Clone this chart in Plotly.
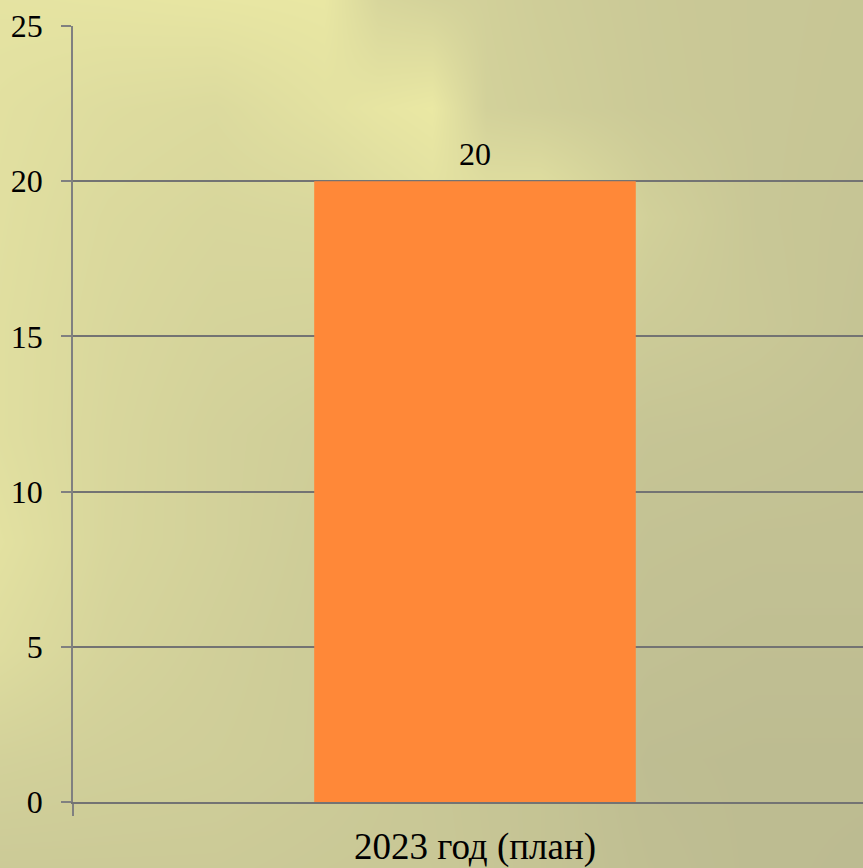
import plotly.graph_objects as go

# ---- chart data ----
categories = ["2023 год (план)"]
values = [20]
y_ticks = [0, 5, 10, 15, 20, 25]

# ---- backdrop: brightness samples of the lit, olive slide background ----
bg_x = [0, 108, 216, 324, 378, 432, 486, 540, 648, 756, 863]
bg_y = [0, 108, 217, 325, 434, 542, 651, 759, 868]
bg_level = [
    [0.88, 0.90, 0.93, 0.96, 0.62, 0.55, 0.50, 0.44, 0.36, 0.32, 0.30],
    [0.82, 0.74, 0.70, 0.84, 0.92, 0.98, 0.52, 0.47, 0.37, 0.32, 0.29],
    [0.80, 0.68, 0.62, 0.64, 0.72, 0.80, 0.85, 0.88, 0.50, 0.32, 0.27],
    [0.78, 0.65, 0.57, 0.55, 0.55, 0.55, 0.53, 0.50, 0.40, 0.34, 0.25],
    [0.78, 0.63, 0.52, 0.45, 0.42, 0.40, 0.37, 0.35, 0.27, 0.25, 0.22],
    [0.84, 0.62, 0.52, 0.42, 0.38, 0.35, 0.32, 0.30, 0.22, 0.20, 0.20],
    [0.74, 0.57, 0.48, 0.40, 0.35, 0.30, 0.27, 0.25, 0.18, 0.15, 0.15],
    [0.52, 0.48, 0.45, 0.40, 0.36, 0.32, 0.28, 0.25, 0.12, 0.10, 0.10],
    [0.38, 0.38, 0.38, 0.35, 0.34, 0.33, 0.29, 0.25, 0.15, 0.10, 0.08],
]

W, H = 863, 868
LEFT, TOP, BOTTOM = 73, 26, 66
SERIF = "Liberation Serif, DejaVu Serif, serif"

fig = go.Figure()

fig.add_trace(go.Heatmap(
    x=bg_x, y=bg_y, z=bg_level,
    zmin=0, zmax=1, zsmooth="best",
    colorscale=[[0, "#b8b78f"], [1, "#ebe9a4"]],
    showscale=False, hoverinfo="skip",
    xaxis="x", yaxis="y",
))

fig.add_trace(go.Bar(
    x=categories, y=values,
    width=0.4,
    marker=dict(color="#ff8838", line=dict(width=0)),
    xaxis="x2", yaxis="y2",
    hoverinfo="skip",
))

for cat, val in zip(categories, values):
    fig.add_annotation(
        x=cat, y=val, xref="x2", yref="y2",
        text=str(val), showarrow=False,
        yanchor="bottom", yshift=7,
        font=dict(family=SERIF, size=32, color="#000000"),
    )

fig.update_layout(
    width=W, height=H,
    margin=dict(l=0, r=0, t=0, b=0, autoexpand=False),
    paper_bgcolor="#d0ce9a",
    plot_bgcolor="rgba(0,0,0,0)",
    showlegend=False,
    font=dict(family=SERIF),
    xaxis=dict(domain=[0, 1], range=[0, W], visible=False,
               fixedrange=True, automargin=False),
    yaxis=dict(domain=[0, 1], range=[H, 0], visible=False,
               fixedrange=True, automargin=False),
    xaxis2=dict(
        domain=[LEFT / W, 1], anchor="y2", automargin=False,
        type="category", categoryorder="array", categoryarray=categories,
        range=[-0.5, 0.4826],
        showgrid=False, zeroline=False,
        showline=True, linecolor="#737373", linewidth=2,
        ticks="outside", tickson="boundaries", ticklen=12,
        tickcolor="#808080", tickwidth=1.5,
        ticklabelstandoff=11,
        tickfont=dict(family=SERIF, size=37, color="#000000"),
    ),
    yaxis2=dict(
        domain=[BOTTOM / H, 1 - TOP / H], anchor="x2", automargin=False,
        range=[0, 25], tickvals=y_ticks,
        showgrid=True, gridcolor="#737373", gridwidth=1.6,
        zeroline=False,
        showline=True, linecolor="#808080", linewidth=1.5,
        ticks="outside", ticklen=10, tickcolor="#808080", tickwidth=1.5,
        ticklabelstandoff=12,
        tickfont=dict(family=SERIF, size=32, color="#000000"),
    ),
)

fig.write_html("out.html")
